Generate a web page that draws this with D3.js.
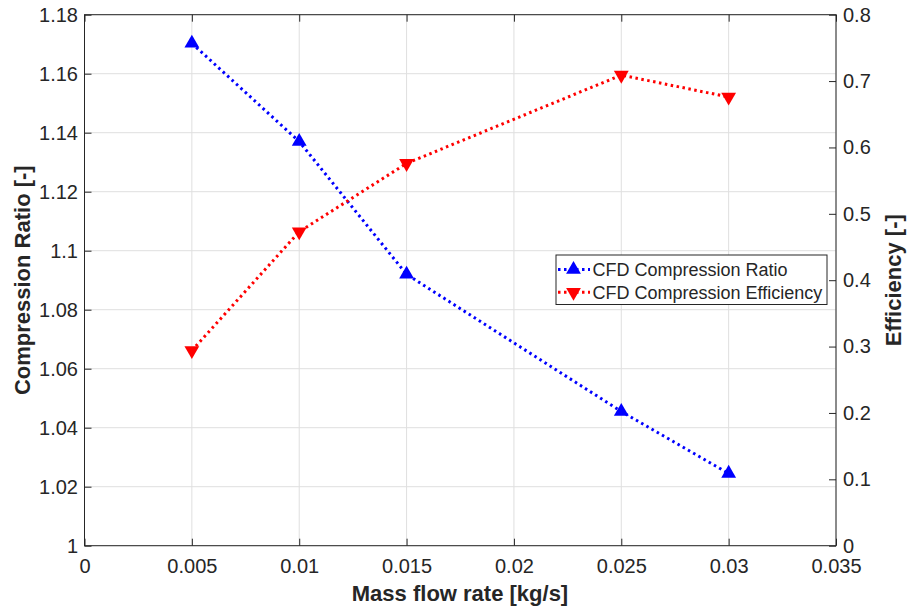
<!DOCTYPE html>
<html>
<head>
<meta charset="utf-8">
<script src="https://cdn.jsdelivr.net/npm/d3@7"></script>
<style>
  body { margin: 0; background: #fff; }
  text { font-family: "Liberation Sans", Arial, sans-serif; fill: #262626; }
</style>
</head>
<body>
<script>
// chart data
var massFlow = [0.005, 0.01, 0.015, 0.025, 0.03];
var compRatio = [1.1703, 1.137, 1.092, 1.0455, 1.0245];
var efficiency = [0.294, 0.473, 0.576, 0.709, 0.676];
var xTicks = [0, 0.005, 0.01, 0.015, 0.02, 0.025, 0.03, 0.035];
var yLeftTicks = [1, 1.02, 1.04, 1.06, 1.08, 1.1, 1.12, 1.14, 1.16, 1.18];
var yRightTicks = [0, 0.1, 0.2, 0.3, 0.4, 0.5, 0.6, 0.7, 0.8];
var seriesNames = ["CFD Compression Ratio", "CFD Compression Efficiency"];

var width = 907, height = 615;
var plotLeft = 84.5, plotRight = 836, plotTop = 14.7, plotBottom = 545.7;

var svg = d3.select("body").append("svg")
  .attr("width", width)
  .attr("height", height);

var x = d3.scaleLinear().domain([0, 0.035]).range([plotLeft, plotRight]);
var yL = d3.scaleLinear().domain([1, 1.18]).range([plotBottom, plotTop]);
var yR = d3.scaleLinear().domain([0, 0.8]).range([plotBottom, plotTop]);

// grid
svg.append("g").selectAll("line").data(xTicks).enter().append("line")
  .attr("x1", d => x(d)).attr("x2", d => x(d))
  .attr("y1", plotTop).attr("y2", plotBottom)
  .attr("stroke", "#dfdfdf").attr("stroke-width", 1);
svg.append("g").selectAll("line").data(yLeftTicks).enter().append("line")
  .attr("x1", plotLeft).attr("x2", plotRight)
  .attr("y1", d => yL(d)).attr("y2", d => yL(d))
  .attr("stroke", "#dfdfdf").attr("stroke-width", 1);

// axes
var fmt = d => String(d);
function styleAxis(g) {
  g.select(".domain").remove();
  g.selectAll(".tick line").attr("stroke", "#262626");
  g.selectAll(".tick text").style("font-size", "20px").attr("fill", "#262626");
}

svg.append("g")
  .attr("transform", "translate(0," + plotBottom + ")")
  .call(d3.axisBottom(x).tickValues(xTicks).tickFormat(fmt).tickSizeInner(-7).tickPadding(13))
  .call(styleAxis);
svg.append("g")
  .attr("transform", "translate(0," + plotTop + ")")
  .call(d3.axisTop(x).tickValues(xTicks).tickFormat("").tickSizeInner(-7))
  .call(styleAxis);
svg.append("g")
  .attr("transform", "translate(" + plotLeft + ",0)")
  .call(d3.axisLeft(yL).tickValues(yLeftTicks).tickFormat(fmt).tickSizeInner(-7).tickPadding(6.5))
  .call(styleAxis);
svg.append("g")
  .attr("transform", "translate(" + plotRight + ",0)")
  .call(d3.axisRight(yR).tickValues(yRightTicks).tickFormat(fmt).tickSizeInner(-7).tickPadding(7))
  .call(styleAxis);

// box
svg.append("rect")
  .attr("x", plotLeft).attr("y", plotTop)
  .attr("width", plotRight - plotLeft).attr("height", plotBottom - plotTop)
  .attr("fill", "none").attr("stroke", "#262626").attr("stroke-width", 1);

// lines and markers
var triUp = d3.symbol().type(d3.symbolTriangle).size(95);

var blueData = massFlow.map((m, i) => [m, compRatio[i]]);
var redData = massFlow.map((m, i) => [m, efficiency[i]]);

svg.append("path").datum(blueData)
  .attr("d", d3.line().x(d => x(d[0])).y(d => yL(d[1])))
  .attr("fill", "none").attr("stroke", "#0000ff")
  .attr("stroke-width", 3).attr("stroke-dasharray", "2.5,3.5");
svg.append("path").datum(redData)
  .attr("d", d3.line().x(d => x(d[0])).y(d => yR(d[1])))
  .attr("fill", "none").attr("stroke", "#ff0000")
  .attr("stroke-width", 3).attr("stroke-dasharray", "2.5,3.5");

svg.append("g").selectAll("path").data(blueData).enter().append("path")
  .attr("d", triUp)
  .attr("transform", d => "translate(" + x(d[0]) + "," + yL(d[1]) + ")")
  .attr("fill", "#0000ff");
svg.append("g").selectAll("path").data(redData).enter().append("path")
  .attr("d", triUp)
  .attr("transform", d => "translate(" + x(d[0]) + "," + yR(d[1]) + ") rotate(180)")
  .attr("fill", "#ff0000");

// axis labels
svg.append("text")
  .attr("x", 460).attr("y", 601)
  .attr("text-anchor", "middle")
  .style("font-size", "22px").style("font-weight", "bold")
  .text("Mass flow rate [kg/s]");
svg.append("text")
  .attr("transform", "translate(30," + (plotTop + plotBottom) / 2 + ") rotate(-90)")
  .attr("text-anchor", "middle")
  .style("font-size", "22px").style("font-weight", "bold")
  .text("Compression Ratio [-]");
svg.append("text")
  .attr("transform", "translate(901," + (plotTop + plotBottom) / 2 + ") rotate(-90)")
  .attr("text-anchor", "middle")
  .style("font-size", "22px").style("font-weight", "bold")
  .text("Efficiency  [-]");

// legend
var lg = svg.append("g").attr("transform", "translate(556,255)");
lg.append("rect")
  .attr("width", 271).attr("height", 49.5)
  .attr("fill", "#fff").attr("stroke", "#262626").attr("stroke-width", 1);
var colors = ["#0000ff", "#ff0000"];
seriesNames.forEach(function(name, i) {
  var yy = 14.5 + i * 22.7;
  lg.append("line")
    .attr("x1", 2).attr("x2", 34).attr("y1", yy).attr("y2", yy)
    .attr("stroke", colors[i]).attr("stroke-width", 3).attr("stroke-dasharray", "2.5,3.5");
  lg.append("path").attr("d", triUp)
    .attr("transform", "translate(17.5," + yy + ")" + (i == 1 ? " rotate(180)" : ""))
    .attr("fill", colors[i]);
  lg.append("text")
    .attr("x", 36.5).attr("y", yy + 6.3)
    .style("font-size", "18px")
    .text(name);
});
</script>
</body>
</html>
